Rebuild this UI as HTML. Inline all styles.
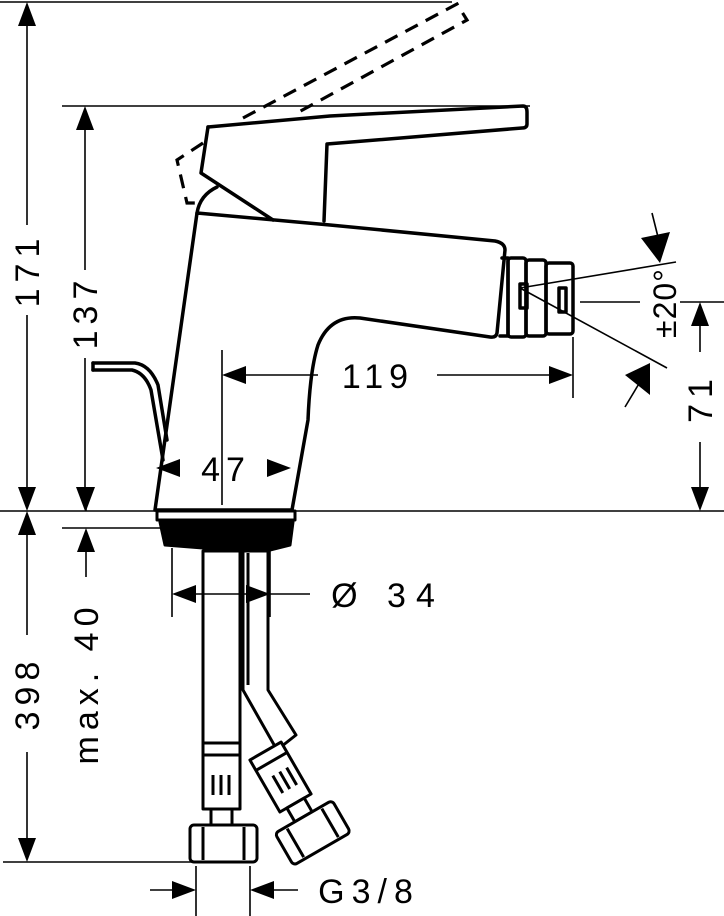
<!DOCTYPE html>
<html><head><meta charset="utf-8"><style>
html,body{margin:0;padding:0;background:#fff;}
svg{display:block;}
text{font-family:"Liberation Sans",sans-serif;fill:#000;}
</style></head><body>
<svg width="724" height="916" viewBox="0 0 724 916" xmlns="http://www.w3.org/2000/svg">
<g stroke="#000" fill="none" stroke-width="1.6">
  <line x1="0" y1="2" x2="452" y2="2"/>
  <line x1="62" y1="106" x2="530" y2="106"/>
  <line x1="0" y1="511" x2="724" y2="511"/>
  <line x1="62" y1="528" x2="165" y2="528"/>
  <line x1="3" y1="862" x2="192" y2="862"/>
  <line x1="27" y1="20" x2="27" y2="225"/><line x1="27" y1="315" x2="27" y2="495"/>
  <line x1="85" y1="125" x2="85" y2="270"/><line x1="85" y1="358" x2="85" y2="495"/>
  <line x1="27" y1="530" x2="27" y2="635"/><line x1="27" y1="752" x2="27" y2="845"/>
  <line x1="86" y1="490" x2="86" y2="511"/><line x1="86" y1="545" x2="86" y2="577"/>
  <line x1="222" y1="350" x2="222" y2="505"/>
  <line x1="240" y1="375" x2="318" y2="375"/><line x1="437" y1="375" x2="555" y2="375"/>
  <line x1="573" y1="337" x2="573" y2="398"/>
  <line x1="196" y1="866" x2="196" y2="916"/><line x1="250" y1="866" x2="250" y2="916"/>
  <line x1="150" y1="890" x2="176" y2="890"/><line x1="270" y1="890" x2="298" y2="890"/>
  <line x1="520" y1="288" x2="676" y2="262"/>
  <line x1="520" y1="288" x2="667" y2="368"/>
  <line x1="580" y1="302" x2="640" y2="302"/><line x1="680" y1="302" x2="724" y2="302"/>
  <line x1="652" y1="213" x2="660" y2="245"/>
  <line x1="625" y1="407" x2="640" y2="382"/>
  <line x1="700" y1="320" x2="700" y2="352"/><line x1="700" y1="442" x2="700" y2="495"/>
</g>
<g fill="#000" stroke="none">
  <polygon points="27,2 18,26 36,26"/><polygon points="27,511 18,487 36,487"/>
  <polygon points="85,106 76,130 94,130"/><polygon points="85,511 76,487 94,487"/>
  <polygon points="27,511 18,535 36,535"/><polygon points="27,862 18,838 36,838"/>
  <polygon points="86,511 77,487 95,487"/><polygon points="86,528 77,552 95,552"/>
  <polygon points="222,375 246,366 246,384"/><polygon points="573,375 549,366 549,384"/>
  <polygon points="156,468 180,459 180,477"/><polygon points="291,468 267,459 267,477"/>
  <polygon points="196,890 172,881 172,899"/><polygon points="250,890 274,881 274,899"/>
  <polygon points="660,263 641,238 670,232"/>
  <polygon points="650,363 625,375 650,395"/>
  <polygon points="700,302 691,326 709,326"/><polygon points="700,511 691,487 709,487"/>
</g>
<g stroke="#000" fill="none" stroke-width="3.5" stroke-linejoin="round" stroke-linecap="round">
  <path d="M197,213 Q200,195 217,187"/>
  <path d="M197,213 L330,225 L495,241 Q505,243 505,250 L497,333 Q496,338 490,337 L360,318 Q330,315 318,345 Q310,370 308,420 L292,510 L155,510 L197,213 Z"/>
  <path d="M208,127 L330,116 L523,106 Q527,106 527,112 L527,124 Q527,128 522,128 L327,144 L324,221"/>
  <path d="M208,127 L201,173 L273,220"/>
  <path d="M502,258 L508,258 L508,336 L500,336"/>
  <rect x="508" y="258" width="18" height="79" rx="3"/>
  <rect x="526" y="260" width="20" height="76" rx="3"/>
  <rect x="546" y="263" width="27" height="71" rx="3"/>
  <rect x="520" y="284" width="7" height="24"/>
  <rect x="559" y="288" width="7" height="24"/>
  <path d="M93,363 L135,363 Q150,365 158,385 L167,440"/>
  <path d="M93,370 L132,370 Q145,373 151,390 L163,460"/>
  <path d="M93,363 L93,370"/>
</g>
<g stroke="#000" fill="none" stroke-width="3.2" stroke-dasharray="14,9">
  <path d="M243,118 L457,4 L467,20 L297,113"/>
  <path d="M203,143 L177,160 L187,203 L197,203"/>
</g>
<g stroke="#000" fill="none" stroke-width="3" stroke-linejoin="round">
  <rect x="157" y="511" width="138" height="9" fill="#fff"/>
  <path d="M160,522 L293,522 L290,545 L270,550 L243,550 L203,548 L165,545 Z" fill="#000"/>
  <rect x="203" y="551" width="37" height="193" fill="#fff"/>
  <path d="M243,551 L268,551 L268,690 L296,735 L277,750 L243,690 Z" fill="#fff"/>
  <line x1="248" y1="553" x2="248" y2="685"/>
  <rect x="203" y="743" width="37" height="66" fill="#fff"/>
  <line x1="203" y1="755" x2="240" y2="755"/>
  <line x1="213" y1="775" x2="213" y2="795"/><line x1="221" y1="775" x2="221" y2="795"/><line x1="229" y1="775" x2="229" y2="795"/>
  <rect x="211" y="809" width="21" height="16"/>
  <rect x="190" y="825" width="67" height="37" rx="4" fill="#fff"/>
  <line x1="203" y1="827" x2="203" y2="860"/><line x1="244" y1="827" x2="244" y2="860"/>
  <g transform="translate(288,790) rotate(-30)">
    <rect x="-18" y="-45" width="36" height="60" fill="#fff"/>
    <line x1="-18" y1="-33" x2="18" y2="-33"/>
    <line x1="-6" y1="-20" x2="-6" y2="0"/><line x1="2" y1="-20" x2="2" y2="0"/><line x1="10" y1="-20" x2="10" y2="0"/>
    <rect x="-10" y="15" width="20" height="16"/>
    <rect x="-33" y="31" width="66" height="37" rx="4" fill="#fff"/>
    <line x1="-20" y1="33" x2="-20" y2="66"/><line x1="20" y1="33" x2="20" y2="66"/>
  </g>
</g>
<!-- Ø34 dim on top -->
<g stroke="#000" stroke-width="1.6">
  <line x1="172" y1="548" x2="172" y2="617"/><line x1="270" y1="548" x2="270" y2="617"/>
  <line x1="190" y1="594" x2="310" y2="594"/>
</g>
<g fill="#000">
  <polygon points="172,594 196,585 196,603"/><polygon points="270,594 246,585 246,603"/>
</g>
<g font-size="34" text-anchor="middle" letter-spacing="6">
  <text transform="translate(39,270) rotate(-90)">171</text>
  <text transform="translate(97,312) rotate(-90)">137</text>
  <text transform="translate(39,693) rotate(-90)">398</text>
  <text transform="translate(98,683) rotate(-90)">max. 40</text>
  <text transform="translate(712,398) rotate(-90)">71</text>
  <text transform="translate(676,303) rotate(-90)" letter-spacing="1" font-size="32">±20°</text>
  <text x="378" y="388">119</text>
  <text x="226" y="481">47</text>
  <text x="388" y="607" letter-spacing="10">Ø 34</text>
  <text x="369" y="903" letter-spacing="7">G3/8</text>
</g>
</svg>
</body></html>
